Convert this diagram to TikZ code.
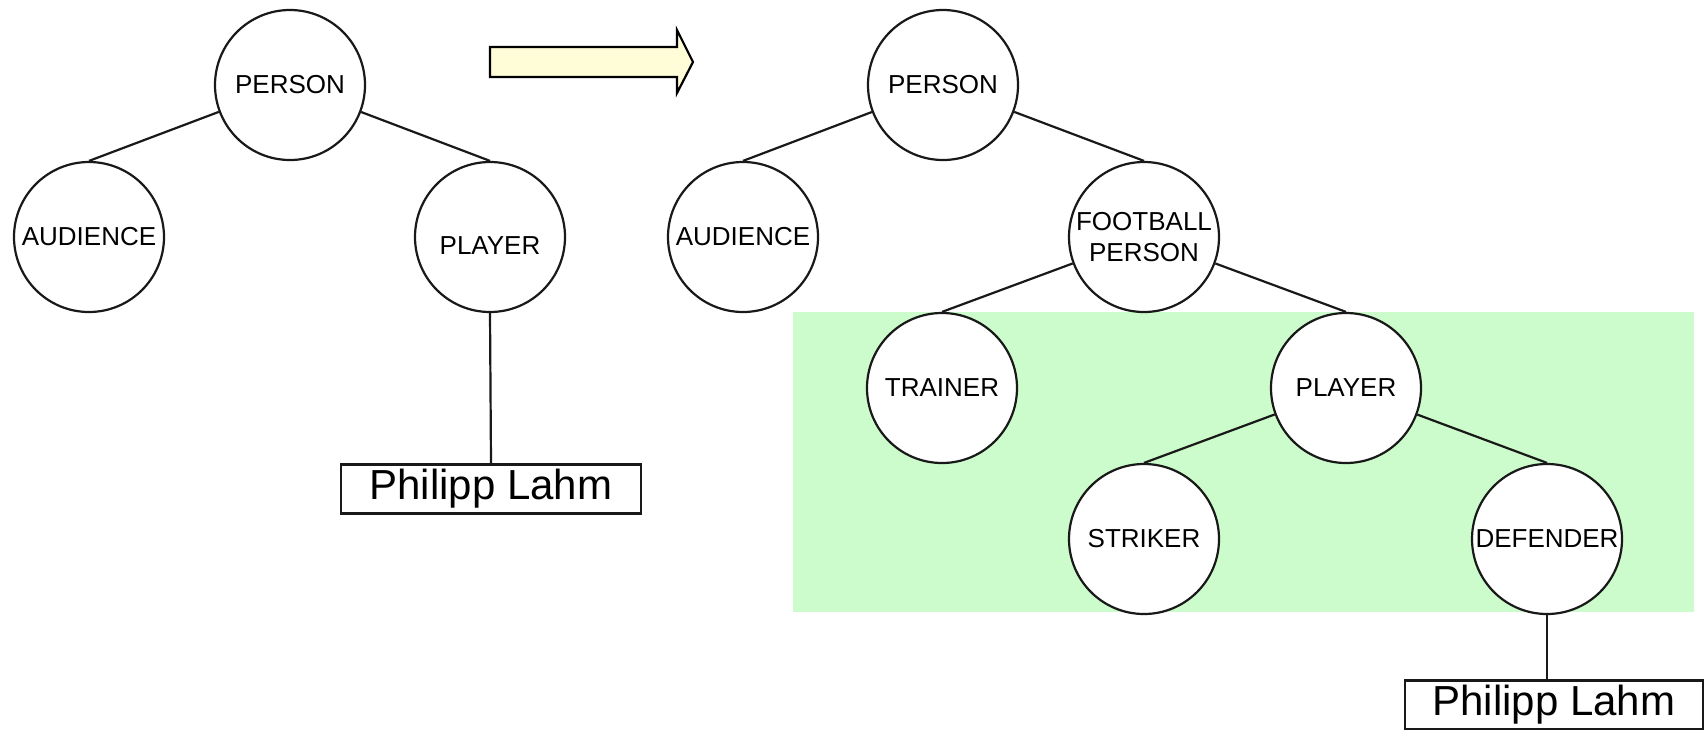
\documentclass[tikz,border=0pt]{standalone}
\usepackage{fontspec}
\setmainfont{Liberation Sans}
\begin{document}
\begin{tikzpicture}[x=1pt,y=-1pt,
  circ/.style={circle, draw=black!90, line width=2.2pt, fill=white, minimum size=150pt, inner sep=0pt, align=center, font=\fontsize{26}{31}\selectfont},
  namebox/.style={rectangle, draw=black!90, line width=2.2pt, fill=white, minimum width=300pt, minimum height=49pt, inner sep=0pt, font=\fontsize{42}{48}\selectfont},
  edge/.style={draw=black!90, line width=2.2pt}]
\useasboundingbox (0,0) rectangle (1705,729);
% green area
\fill[fill={rgb,255:red,204;green,252;blue,204}] (793,312) rectangle (1694,612);
% big arrow
\draw[fill={rgb,255:red,255;green,253;blue,216}, line width=2.2pt, line join=miter]
  (490,47) -- (677,47) -- (677,30) -- (693,62) -- (677,93) -- (677,77) -- (490,77) -- cycle;
% left tree
\node[circ] (p1) at (290,85) {PERSON};
\node[circ] (a1) at (89,237) {AUDIENCE};
\node[circ] (pl1) at (490,237) {\raisebox{-17.4pt}[0pt][0pt]{PLAYER}};
\node[namebox] (b1) at (491,489) {Philipp Lahm};
\draw[edge] (p1) -- (a1.north);
\draw[edge] (p1) -- (pl1.north);
\draw[edge] (pl1.south) -- (b1.north);
% right tree
\node[circ] (p2) at (943,85) {PERSON};
\node[circ] (a2) at (743,237) {AUDIENCE};
\node[circ] (f2) at (1144,237) {FOOTBALL\\PERSON};
\node[circ] (t2) at (942,388) {TRAINER};
\node[circ] (pl2) at (1346,388) {PLAYER};
\node[circ] (s2) at (1144,539) {STRIKER};
\node[circ] (d2) at (1547,539) {DEFENDER};
\node[namebox, minimum width=298pt] (b2) at (1554,705) {Philipp Lahm};
\draw[edge] (p2) -- (a2.north);
\draw[edge] (p2) -- (f2.north);
\draw[edge] (f2) -- (t2.north);
\draw[edge] (f2) -- (pl2.north);
\draw[edge] (pl2) -- (s2.north);
\draw[edge] (pl2) -- (d2.north);
\draw[edge] (d2.south) -- (d2.south |- b2.north);
\end{tikzpicture}
\end{document}
